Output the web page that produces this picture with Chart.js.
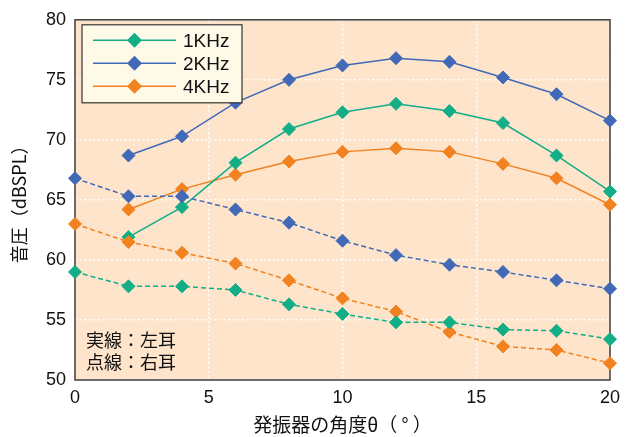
<!DOCTYPE html>
<html>
<head>
<meta charset="utf-8">
<script src="https://cdn.jsdelivr.net/npm/chart.js@4.4.0/dist/chart.umd.min.js"></script>
<style>
  html, body { margin: 0; padding: 0; background: #ffffff; }
  #wrap { width: 634px; height: 437px; }
</style>
</head>
<body>
<div id="wrap"><canvas id="c" width="634" height="437"></canvas></div>
<script>
// Transducer angle (degrees)
const angles = [0, 2, 4, 6, 8, 10, 12, 14, 16, 18, 20];

// Left ear (solid lines), no reading at 0°
const left1k = [null, 61.9, 64.4, 68.1, 70.9, 72.3, 73.0, 72.4, 71.4, 68.7, 65.7];
const left2k = [null, 68.7, 70.3, 73.1, 75.0, 76.2, 76.8, 76.5, 75.2, 73.8, 71.6];
const left4k = [null, 64.2, 65.9, 67.1, 68.2, 69.0, 69.3, 69.0, 68.0, 66.8, 64.6];

// Right ear (dashed lines)
const right1k = [59.0, 57.8, 57.8, 57.5, 56.3, 55.5, 54.8, 54.8, 54.2, 54.1, 53.4];
const right2k = [66.8, 65.3, 65.3, 64.2, 63.1, 61.6, 60.4, 59.6, 59.0, 58.3, 57.6];
const right4k = [63.0, 61.5, 60.6, 59.7, 58.3, 56.8, 55.7, 54.0, 52.8, 52.5, 51.4];

const seriesNames = ['1KHz', '2KHz', '4KHz'];
const xTicks = [0, 5, 10, 15, 20];
const yTicks = [50, 55, 60, 65, 70, 75, 80];
const notes = ['実線：左耳', '点線：右耳'];
const xTitle = '発振器の角度θ（ ° ）';
const yTitle = '音圧（dBSPL）';

const colors = ['#12AE87', '#4169B7', '#F2821F'];
const FONT = '"Liberation Sans", Arial, "Noto Sans CJK JP", sans-serif';
const JFONT = '"Noto Sans CJK JP", sans-serif';

function toPoints(vals) {
  return angles.map((a, i) => ({ x: a, y: vals[i] }));
}

function series(label, vals, color, dashed) {
  return {
    label: label,
    data: toPoints(vals),
    borderColor: color,
    backgroundColor: color,
    borderWidth: 1.5,
    borderDash: dashed ? [5, 3] : [],
    pointStyle: 'rectRot',
    pointRadius: 6.5,
    pointHoverRadius: 6.5,
    pointBorderWidth: 1,
    pointBorderColor: color,
    pointBackgroundColor: color,
    tension: 0,
    clip: false,
    spanGaps: false,
    isLegend: !dashed
  };
}

const datasets = [
  series(seriesNames[0], right1k, colors[0], true),
  series(seriesNames[1], right2k, colors[1], true),
  series(seriesNames[2], right4k, colors[2], true),
  series(seriesNames[0], left1k, colors[0], false),
  series(seriesNames[1], left2k, colors[1], false),
  series(seriesNames[2], left4k, colors[2], false)
];

// Peach plot background
const areaFill = {
  id: 'areaFill',
  beforeDraw(chart) {
    const { ctx, chartArea: a } = chart;
    ctx.save();
    ctx.fillStyle = '#FDE4CA';
    ctx.fillRect(a.left, a.top, a.right - a.left, a.bottom - a.top);
    ctx.restore();
  }
};

// Dark frame around the plot area, under the markers
const frame = {
  id: 'frame',
  beforeDatasetsDraw(chart) {
    const { ctx, chartArea: a } = chart;
    ctx.save();
    ctx.strokeStyle = '#3d3d3d';
    ctx.lineWidth = 1.5;
    ctx.strokeRect(a.left, a.top, a.right - a.left, a.bottom - a.top);
    ctx.restore();
  }
};

// Boxed legend (line + marker per frequency) and the line-style note
const legendBox = {
  id: 'legendBox',
  afterDatasetsDraw(chart) {
    const { ctx, chartArea: a } = chart;
    const bx = a.left + 7, by = a.top + 5, bw = 160, bh = 78;
    ctx.save();
    ctx.fillStyle = '#FFFAE8';
    ctx.fillRect(bx, by, bw, bh);
    ctx.strokeStyle = '#333333';
    ctx.lineWidth = 1.2;
    ctx.strokeRect(bx, by, bw, bh);
    const shown = chart.data.datasets.filter(d => d.isLegend);
    shown.forEach((d, i) => {
      const y = by + 15.5 + i * 23;
      ctx.strokeStyle = d.borderColor;
      ctx.lineWidth = 1.5;
      ctx.setLineDash([]);
      ctx.beginPath();
      ctx.moveTo(bx + 11, y);
      ctx.lineTo(bx + 94, y);
      ctx.stroke();
      ctx.fillStyle = d.backgroundColor;
      Chart.helpers.drawPoint(ctx, { pointStyle: 'rectRot', radius: 6.5, borderWidth: 1 }, bx + 52.5, y);
      ctx.fill();
      ctx.fillStyle = '#111111';
      ctx.font = '19px ' + FONT;
      ctx.textBaseline = 'middle';
      ctx.textAlign = 'left';
      ctx.fillText(d.label, bx + 101, y + 1);
    });
    ctx.font = '18px ' + JFONT;
    ctx.fillStyle = '#111111';
    ctx.textBaseline = 'middle';
    notes.forEach((t, i) => {
      ctx.fillText(t, a.left + 11, a.bottom - 40 + i * 22);
    });
    ctx.restore();
  }
};

new Chart(document.getElementById('c'), {
  type: 'line',
  data: { datasets: datasets },
  plugins: [areaFill, frame, legendBox],
  options: {
    responsive: false,
    animation: false,
    events: [],
    layout: { padding: { top: 11, right: 24, bottom: 0, left: 0 } },
    plugins: {
      legend: { display: false },
      tooltip: { enabled: false }
    },
    scales: {
      x: {
        type: 'linear',
        min: 0,
        max: 20,
        afterBuildTicks(scale) { scale.ticks = xTicks.map(v => ({ value: v })); },
        afterFit(scale) { scale.height = 57; },
        ticks: {
          color: '#111111',
          font: { family: FONT, size: 18 },
          padding: 7,
          maxRotation: 0
        },
        grid: {
          color: '#ffffff',
          lineWidth: 1.5,
          drawTicks: false
        },
        border: { display: false, dash: [2, 2.5] },
        title: {
          display: true,
          text: xTitle,
          color: '#111111',
          font: { family: JFONT, size: 19 },
          padding: { top: 0, bottom: 1 }
        }
      },
      y: {
        type: 'linear',
        min: 50,
        max: 80,
        afterBuildTicks(scale) { scale.ticks = yTicks.map(v => ({ value: v })); },
        afterFit(scale) { scale.width = 75; },
        ticks: {
          color: '#111111',
          font: { family: FONT, size: 18 },
          padding: 9
        },
        grid: {
          color: '#ffffff',
          lineWidth: 1.5,
          drawTicks: false
        },
        border: { display: false, dash: [2, 2.5] },
        title: {
          display: true,
          text: yTitle,
          color: '#111111',
          font: { family: JFONT, size: 18 },
          padding: { top: 8, bottom: 0 }
        }
      }
    }
  }
});
</script>
</body>
</html>
